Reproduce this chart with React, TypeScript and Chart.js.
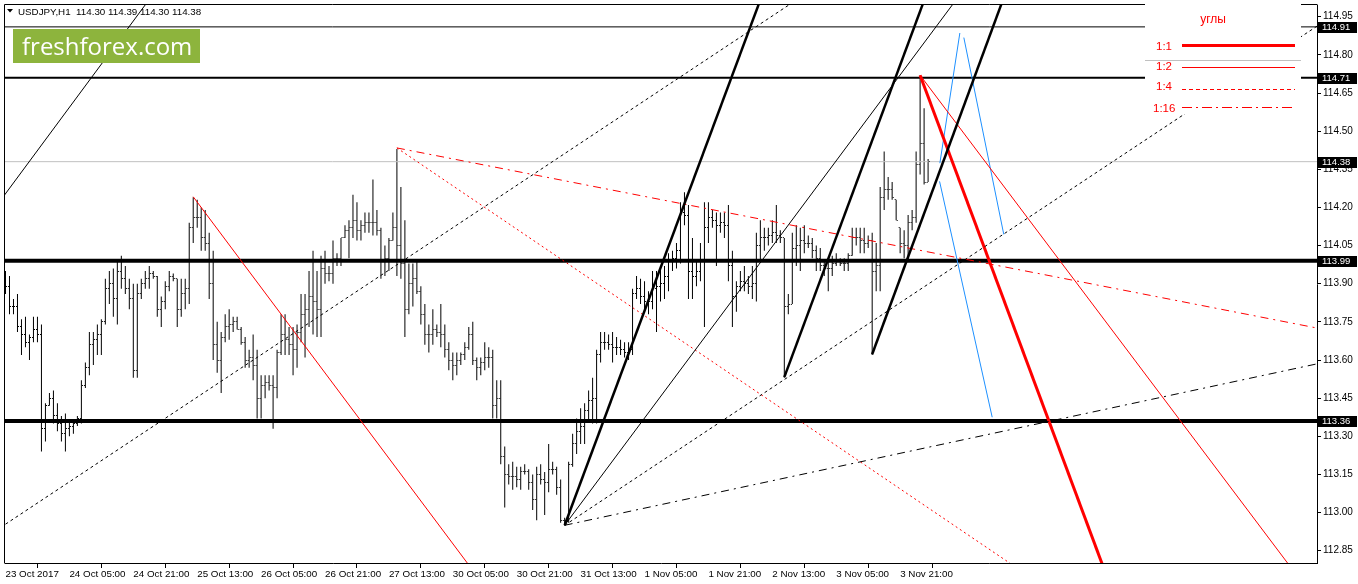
import React, { useEffect, useRef } from 'react';
import { Chart, registerables } from 'chart.js';

Chart.register(...registerables);

// ---------- DATA ----------
const symbolTitle = 'USDJPY,H1';
const logoText = 'freshforex.com';
const legendTitle = 'углы';
const legendRows = ['1:1', '1:2', '1:4', '1:16'];

const xTickBars = [0, 16, 32, 48, 64, 80, 96, 112, 128, 144, 160, 176, 192, 208, 224];
const xTickLabels = [
  '23 Oct 2017', '24 Oct 05:00', '24 Oct 21:00', '25 Oct 13:00', '26 Oct 05:00',
  '26 Oct 21:00', '27 Oct 13:00', '30 Oct 05:00', '30 Oct 21:00', '31 Oct 13:00',
  '1 Nov 05:00', '1 Nov 21:00', '2 Nov 13:00', '3 Nov 05:00', '3 Nov 21:00',
];
const yTickValues = [114.95, 114.8, 114.65, 114.5, 114.35, 114.2, 114.05, 113.9, 113.75, 113.6, 113.45, 113.3, 113.15, 113.0, 112.85];

// horizontal levels
const levelThin = 114.91;
const levelMid = 114.71;
const levelBid = 114.38;
const levelThickHigh = 113.99;
const levelThickLow = 113.36;
const markedLevels = [114.91, 114.71, 114.38, 113.99, 113.36];

const barOpen = [
  113.93,113.89,113.81,113.81,113.73,113.70,113.67,113.69,113.72,113.70,
  113.33,113.42,113.45,113.38,113.35,113.31,113.33,113.34,113.35,113.37,
  113.50,113.57,113.66,113.68,113.70,113.75,113.88,113.90,113.84,113.95,
  113.92,113.88,113.84,113.56,113.86,113.90,113.92,113.94,113.93,113.80,
  113.83,113.89,113.93,113.92,113.80,113.86,113.88,114.12,114.16,114.16,
  114.08,114.06,113.90,113.66,113.60,113.69,113.73,113.74,113.75,113.72,
  113.67,113.60,113.61,113.58,113.45,113.50,113.51,113.50,113.49,113.63,
  113.70,113.68,113.66,113.64,113.71,113.78,113.80,113.85,113.83,113.80,
  113.96,113.94,113.94,114.00,114.00,114.08,114.11,114.12,114.15,114.11,
  114.13,114.14,114.14,114.14,114.11,113.99,114.00,114.07,114.12,114.05,
  113.98,113.80,113.90,113.92,113.87,113.78,113.70,113.70,113.72,113.71,
  113.70,113.64,113.60,113.58,113.60,113.62,113.65,113.70,113.60,113.57,
  113.59,113.61,113.61,113.42,113.45,113.22,113.15,113.14,113.14,113.13,
  113.16,113.16,113.12,113.05,113.15,113.13,113.12,113.17,113.17,113.10,
  112.97,112.97,113.19,113.27,113.32,113.34,113.40,113.44,113.45,113.62,
  113.67,113.67,113.66,113.65,113.65,113.64,113.63,113.64,113.86,113.88,
  113.85,113.83,113.83,113.88,113.89,113.90,113.93,113.99,114.00,114.03,
  114.18,114.17,113.95,113.93,113.95,113.99,114.12,114.16,114.15,114.13,
  114.14,114.13,113.97,113.85,113.89,113.91,113.90,113.89,113.90,114.05,
  114.08,114.08,114.09,114.10,114.09,114.08,113.81,113.82,114.04,114.05,
  114.07,114.06,114.06,114.03,114.00,113.97,113.96,113.96,113.98,113.99,
  113.98,113.98,114.01,114.08,114.08,114.07,114.06,114.07,113.95,113.97,
  114.24,114.27,114.27,114.23,114.12,114.06,114.05,114.14,114.16,114.37,
  114.45,114.30,
];
const barHigh = [
  113.95,113.93,113.84,113.86,113.76,113.77,113.70,113.77,113.77,113.74,
  113.43,113.47,113.48,113.43,113.38,113.39,113.36,113.36,113.38,113.52,
  113.59,113.71,113.71,113.74,113.76,113.92,113.95,113.96,113.99,114.01,
  113.97,113.92,113.90,113.90,113.92,113.95,113.97,113.95,113.93,113.85,
  113.91,113.95,113.94,113.92,113.92,113.92,114.14,114.24,114.23,114.20,
  114.19,114.10,114.03,113.75,113.71,113.78,113.80,113.77,113.77,113.73,
  113.69,113.64,113.70,113.64,113.54,113.54,113.54,113.54,113.64,113.78,
  113.78,113.73,113.73,113.74,113.86,113.86,113.95,114.03,113.95,114.01,
  114.03,113.97,114.07,114.02,114.08,114.13,114.15,114.25,114.22,114.15,
  114.18,114.18,114.31,114.19,114.12,114.05,114.08,114.18,114.43,114.28,
  114.15,113.98,113.98,113.99,113.89,113.82,113.74,113.80,113.74,113.82,
  113.74,113.67,113.63,113.63,113.63,113.67,113.73,113.75,113.61,113.61,
  113.67,113.65,113.64,113.52,113.52,113.26,113.19,113.20,113.18,113.18,
  113.19,113.17,113.15,113.18,113.19,113.16,113.27,113.20,113.18,113.13,
  112.98,113.20,113.31,113.37,113.41,113.43,113.48,113.53,113.64,113.71,
  113.71,113.70,113.71,113.69,113.68,113.67,113.67,113.88,113.93,113.92,
  113.91,113.87,113.95,113.95,113.97,113.97,114.02,114.03,114.06,114.22,
  114.26,114.21,114.08,113.99,114.06,114.22,114.22,114.19,114.18,114.18,
  114.18,114.21,114.03,113.91,113.95,113.97,113.93,113.97,114.10,114.15,
  114.12,114.12,114.15,114.21,114.11,114.08,113.86,114.10,114.13,114.12,
  114.13,114.09,114.08,114.05,114.04,113.99,114.00,114.01,114.02,114.00,
  114.00,114.02,114.12,114.12,114.12,114.12,114.09,114.10,114.06,114.28,
  114.42,114.32,114.30,114.23,114.12,114.11,114.17,114.19,114.42,114.72,
  114.59,114.39,
];
const barLow = [
  113.86,113.78,113.78,113.71,113.62,113.65,113.60,113.67,113.67,113.24,
  113.28,113.42,113.35,113.32,113.28,113.24,113.30,113.31,113.34,113.35,
  113.49,113.54,113.58,113.62,113.62,113.74,113.82,113.77,113.74,113.88,
  113.86,113.80,113.53,113.53,113.84,113.88,113.88,113.92,113.77,113.73,
  113.80,113.87,113.91,113.73,113.77,113.80,113.82,114.06,114.12,114.03,
  114.03,113.84,113.60,113.55,113.47,113.67,113.68,113.71,113.72,113.66,
  113.57,113.57,113.52,113.37,113.37,113.45,113.48,113.33,113.45,113.62,
  113.62,113.62,113.54,113.57,113.67,113.61,113.73,113.70,113.69,113.69,
  113.90,113.91,113.90,113.97,113.97,114.08,114.00,114.08,114.07,114.07,
  114.10,114.10,114.09,114.09,113.92,113.93,113.95,114.07,113.93,113.92,
  113.69,113.78,113.81,113.86,113.74,113.66,113.63,113.66,113.69,113.65,
  113.61,113.56,113.52,113.54,113.58,113.60,113.64,113.58,113.52,113.54,
  113.56,113.57,113.37,113.37,113.19,113.02,113.11,113.09,113.10,113.09,
  113.15,113.09,113.01,112.97,113.11,112.99,113.08,113.15,113.07,112.96,
  112.95,112.96,113.18,113.23,113.27,113.27,113.36,113.35,113.35,113.59,
  113.64,113.64,113.59,113.62,113.62,113.61,113.60,113.62,113.84,113.82,
  113.79,113.78,113.80,113.71,113.83,113.84,113.87,113.95,113.96,113.98,
  114.13,113.84,113.84,113.89,113.91,113.73,114.06,114.12,113.97,114.10,
  114.08,113.91,113.73,113.79,113.87,113.87,113.86,113.84,113.83,113.99,
  114.03,114.05,114.06,114.06,114.06,113.53,113.78,113.82,113.97,113.95,
  114.02,114.04,114.00,113.95,113.95,113.93,113.87,113.93,113.97,113.97,
  113.95,113.95,114.01,114.05,114.02,114.02,114.04,113.62,113.87,113.87,
  114.19,114.23,114.23,114.15,114.02,114.00,113.99,114.11,114.14,114.33,
  114.29,114.30,
];
const barClose = [
  113.89,113.81,113.81,113.73,113.70,113.67,113.69,113.72,113.70,113.33,
  113.42,113.45,113.38,113.35,113.31,113.33,113.34,113.35,113.37,113.50,
  113.57,113.66,113.68,113.70,113.75,113.88,113.90,113.84,113.95,113.92,
  113.88,113.84,113.56,113.86,113.90,113.92,113.94,113.93,113.80,113.83,
  113.89,113.93,113.92,113.80,113.86,113.88,114.12,114.16,114.16,114.08,
  114.06,113.90,113.66,113.60,113.69,113.73,113.74,113.75,113.72,113.67,
  113.60,113.61,113.58,113.45,113.50,113.51,113.50,113.49,113.63,113.70,
  113.68,113.66,113.64,113.71,113.78,113.80,113.85,113.83,113.80,113.96,
  113.94,113.94,114.00,114.00,114.08,114.11,114.12,114.15,114.11,114.13,
  114.14,114.14,114.14,114.11,113.99,114.00,114.07,114.12,114.05,113.98,
  113.80,113.90,113.92,113.87,113.78,113.70,113.70,113.72,113.71,113.70,
  113.64,113.60,113.58,113.60,113.62,113.65,113.70,113.60,113.57,113.59,
  113.61,113.61,113.42,113.45,113.22,113.15,113.14,113.14,113.13,113.16,
  113.16,113.12,113.05,113.15,113.13,113.12,113.17,113.17,113.10,112.97,
  112.97,113.19,113.27,113.32,113.34,113.40,113.44,113.45,113.62,113.67,
  113.67,113.66,113.65,113.65,113.64,113.63,113.64,113.86,113.88,113.85,
  113.83,113.83,113.88,113.89,113.90,113.93,113.99,114.00,114.03,114.18,
  114.17,113.95,113.93,113.95,113.99,114.12,114.16,114.15,114.13,114.14,
  114.13,113.97,113.85,113.89,113.91,113.90,113.89,113.90,114.05,114.08,
  114.08,114.09,114.10,114.09,114.08,113.81,113.82,114.04,114.05,114.07,
  114.06,114.06,114.03,114.00,113.97,113.96,113.96,113.98,113.99,113.98,
  113.98,114.01,114.08,114.08,114.07,114.06,114.07,113.95,113.97,114.24,
  114.27,114.27,114.24,114.15,114.06,114.05,114.14,114.16,114.37,114.45,
  114.30,114.38,
];

// trend lines: [bar0, price0, bar1, price1]
const oldFanHalf = [-5, 114.148, 50, 115.315];
const oldFanQuarter = [-5, 112.9023, 210, 115.1404];
const lowFanA1 = [140, 112.95, 200, 115.48];
const lowFanA2 = [140, 112.95, 260, 115.48];
const lowFanA4 = [140, 112.95, 340, 115.034];
const lowFanA16 = [140, 112.95, 340, 113.624];
const lowFanB1 = [195, 113.5325, 240, 115.437];
const lowFanC1 = [217, 113.6226, 260, 115.453];
const highFan1Half = [47, 114.242, 130, 112.5];
const highFan2Quarter = [98, 114.434, 340, 111.859];
const highFan2Sixteenth = [98, 114.434, 340, 113.69];
const highFan3One = [229, 114.72, 300, 111.726];
const highFan3Half = [229, 114.72, 330, 112.614];
const blueUp = [233.95, 114.374, 238.95, 114.886];
const blueRight = [239.95, 114.868, 249.95, 114.094];
const blueLeft = [233.875, 114.3025, 247.05, 113.375];

// ---------- STYLE ----------
const FONT = '"Liberation Sans", Arial, sans-serif';
const RED = '#ff0000';
const BLUE = '#1e90ff';
const DOT_BLACK = [3, 3];
const DOT_RED = [2, 3];
const DASHDOT = [8, 5, 2, 5];

function seg(p: number[], color: string, width: number, dash: number[] = []) {
  return {
    type: 'line' as const,
    data: [{ x: p[0], y: p[1] }, { x: p[2], y: p[3] }],
    borderColor: color,
    borderWidth: width,
    borderDash: dash,
    pointRadius: 0,
    tension: 0,
    fill: false,
    clip: 0,
    order: 0,
  };
}

function level(v: number, color: string, width: number) {
  return {
    type: 'line' as const,
    data: [{ x: -10, y: v }, { x: 400, y: v }],
    borderColor: color,
    borderWidth: width,
    pointRadius: 0,
    tension: 0,
    fill: false,
    clip: 0,
    order: 1,
  };
}

function tickImage(left: boolean) {
  const c = document.createElement('canvas');
  c.width = 7;
  c.height = 1;
  const g = c.getContext('2d')!;
  g.fillStyle = '#000';
  g.fillRect(left ? 2 : 4, 0, 1, 1);
  return c;
}

const overlayPlugin = {
  id: 'mt4Overlay',
  afterDraw(chart: any) {
    const { ctx, chartArea: a } = chart;
    const yS = chart.scales.y;
    ctx.save();
    ctx.setLineDash([]);
    // frame
    ctx.strokeStyle = '#000';
    ctx.lineWidth = 1;
    ctx.beginPath();
    ctx.moveTo(a.left - 0.5, a.bottom + 0.5);
    ctx.lineTo(a.left - 0.5, a.top - 0.5);
    ctx.lineTo(a.right + 0.5, a.top - 0.5);
    ctx.stroke();

    // header
    ctx.fillStyle = '#000';
    ctx.beginPath();
    ctx.moveTo(7, 9);
    ctx.lineTo(13, 9);
    ctx.lineTo(10, 12.5);
    ctx.closePath();
    ctx.fill();
    const n = barOpen.length - 1;
    const header = `${symbolTitle}  ${barOpen[n].toFixed(2)} ${barHigh[n].toFixed(2)} ${barLow[n].toFixed(2)} ${barClose[n].toFixed(2)}`;
    ctx.font = `9.8px ${FONT}`;
    ctx.textAlign = 'left';
    ctx.textBaseline = 'alphabetic';
    ctx.fillText(header, 18, 14.5);

    // logo
    ctx.fillStyle = '#8db43d';
    ctx.fillRect(13, 29, 187, 34);
    ctx.fillStyle = '#ffffff';
    ctx.font = '24px "Open Sans", "Noto Sans", sans-serif';
    ctx.fillText(logoText, 22, 55);

    // legend box
    ctx.fillStyle = '#ffffff';
    ctx.fillRect(1145, 3, 156, 111);
    ctx.strokeStyle = '#c0c0c0';
    ctx.beginPath();
    ctx.moveTo(1145, 60.5);
    ctx.lineTo(1301, 60.5);
    ctx.stroke();
    ctx.fillStyle = RED;
    ctx.font = `12px ${FONT}`;
    ctx.textAlign = 'center';
    ctx.fillText(legendTitle, 1213, 23);
    ctx.font = `11.5px ${FONT}`;
    ctx.textAlign = 'left';
    const rowBase = [50, 70, 90, 111.5];
    const rowLineY = [45.5, 67.5, 89.5, 107.5];
    const rowWidth = [3, 1, 1, 1];
    const rowDash: number[][] = [[], [], [4, 3], [10, 4, 2, 4]];
    legendRows.forEach((t, k) => {
      ctx.fillStyle = RED;
      ctx.fillText(t, k === 3 ? 1153 : 1156, rowBase[k]);
      ctx.strokeStyle = RED;
      ctx.lineWidth = rowWidth[k];
      ctx.setLineDash(rowDash[k]);
      ctx.beginPath();
      ctx.moveTo(1182, rowLineY[k]);
      ctx.lineTo(1295, rowLineY[k]);
      ctx.stroke();
    });
    ctx.setLineDash([]);

    // price boxes on the axis
    ctx.font = `9.5px ${FONT}`;
    ctx.textBaseline = 'middle';
    markedLevels.forEach((v) => {
      const y = yS.getPixelForValue(v);
      ctx.fillStyle = '#000';
      ctx.fillRect(a.right + 1, Math.round(y) - 5, 39, 11);
      ctx.fillStyle = '#fff';
      ctx.fillText(v.toFixed(2), a.right + 5, Math.round(y) + 0.5);
    });
    ctx.restore();
  },
};

export default function App() {
  const ref = useRef<HTMLCanvasElement>(null);

  useEffect(() => {
    const canvas = ref.current;
    if (!canvas) return;
    const openTick = tickImage(true);
    const closeTick = tickImage(false);

    const datasets: any[] = [
      seg(oldFanHalf, '#000', 1),
      seg(oldFanQuarter, '#000', 1, DOT_BLACK),
      seg(lowFanA1, '#000', 2.5),
      seg(lowFanA2, '#000', 1),
      seg(lowFanA4, '#000', 1, DOT_BLACK),
      seg(lowFanA16, '#000', 1, DASHDOT),
      seg(lowFanB1, '#000', 2.5),
      seg(lowFanC1, '#000', 2.5),
      seg(highFan1Half, RED, 1),
      seg(highFan2Quarter, RED, 1, DOT_RED),
      seg(highFan2Sixteenth, RED, 1, DASHDOT),
      seg(highFan3One, RED, 3),
      seg(highFan3Half, RED, 1),
      seg(blueUp, BLUE, 1),
      seg(blueRight, BLUE, 1),
      seg(blueLeft, BLUE, 1),
      level(levelThin, '#000', 1),
      level(levelMid, '#000', 2),
      level(levelThickHigh, '#000', 4),
      level(levelThickLow, '#000', 4),
      { ...level(levelBid, '#c0c0c0', 1), order: 8 },
      {
        type: 'scatter',
        data: barOpen.map((v, i) => ({ x: i, y: v })),
        pointStyle: openTick,
        pointRadius: 2,
        showLine: false,
        clip: 0,
        order: 5,
      },
      {
        type: 'scatter',
        data: barClose.map((v, i) => ({ x: i, y: v })),
        pointStyle: closeTick,
        pointRadius: 2,
        showLine: false,
        clip: 0,
        order: 5,
      },
      {
        type: 'bar',
        data: barHigh.map((h, i) => ({ x: i, y: [barLow[i], h] })),
        backgroundColor: '#000',
        borderWidth: 0,
        barThickness: 1,
        inflateAmount: 0,
        grouped: false,
        clip: 0,
        order: 10,
      },
    ];

    const chart = new Chart(canvas, {
      type: 'scatter',
      data: { datasets },
      plugins: [overlayPlugin],
      options: {
        responsive: false,
        devicePixelRatio: 1,
        animation: false,
        events: [],
        layout: { padding: { left: 3, top: 3, right: 0, bottom: 0 } },
        plugins: { legend: { display: false }, tooltip: { enabled: false }, title: { display: false } },
        scales: {
          x: {
            type: 'linear',
            position: 'bottom',
            min: -0.125,
            max: 328.375,
            offset: false,
            afterBuildTicks: (s: any) => {
              s.ticks = xTickBars.map((v) => ({ value: v }));
            },
            afterFit: (s: any) => {
              s.height = 21;
              s.paddingLeft = 0;
              s.paddingRight = 0;
            },
            ticks: {
              autoSkip: false,
              maxRotation: 0,
              minRotation: 0,
              align: 'start',
              padding: 0,
              color: '#000',
              font: { family: FONT, size: 9.8 },
              callback: (_v: any, idx: number) => xTickLabels[idx],
            },
            grid: { drawOnChartArea: false, drawTicks: true, tickLength: 5, color: '#000' },
            border: { display: true, color: '#000', width: 1 },
          },
          y: {
            type: 'linear',
            position: 'right',
            min: 112.80172,
            max: 114.99608,
            afterBuildTicks: (s: any) => {
              s.ticks = yTickValues.map((v) => ({ value: v }));
            },
            afterFit: (s: any) => {
              s.width = 41;
              s.paddingTop = 0;
              s.paddingBottom = 0;
            },
            ticks: {
              padding: 2,
              color: '#000',
              font: { family: FONT, size: 10 },
              callback: (v: any) => Number(v).toFixed(2),
            },
            grid: { drawOnChartArea: false, drawTicks: true, tickLength: 4, color: '#000' },
            border: { display: true, color: '#000', width: 1 },
          },
        },
      } as any,
    });
    return () => chart.destroy();
  }, []);

  return (
    <div style={{ position: 'absolute', left: 0, top: 0, width: 1358, height: 584, background: '#fff' }}>
      <canvas ref={ref} width={1358} height={584} style={{ display: 'block', width: 1358, height: 584 }} />
    </div>
  );
}
